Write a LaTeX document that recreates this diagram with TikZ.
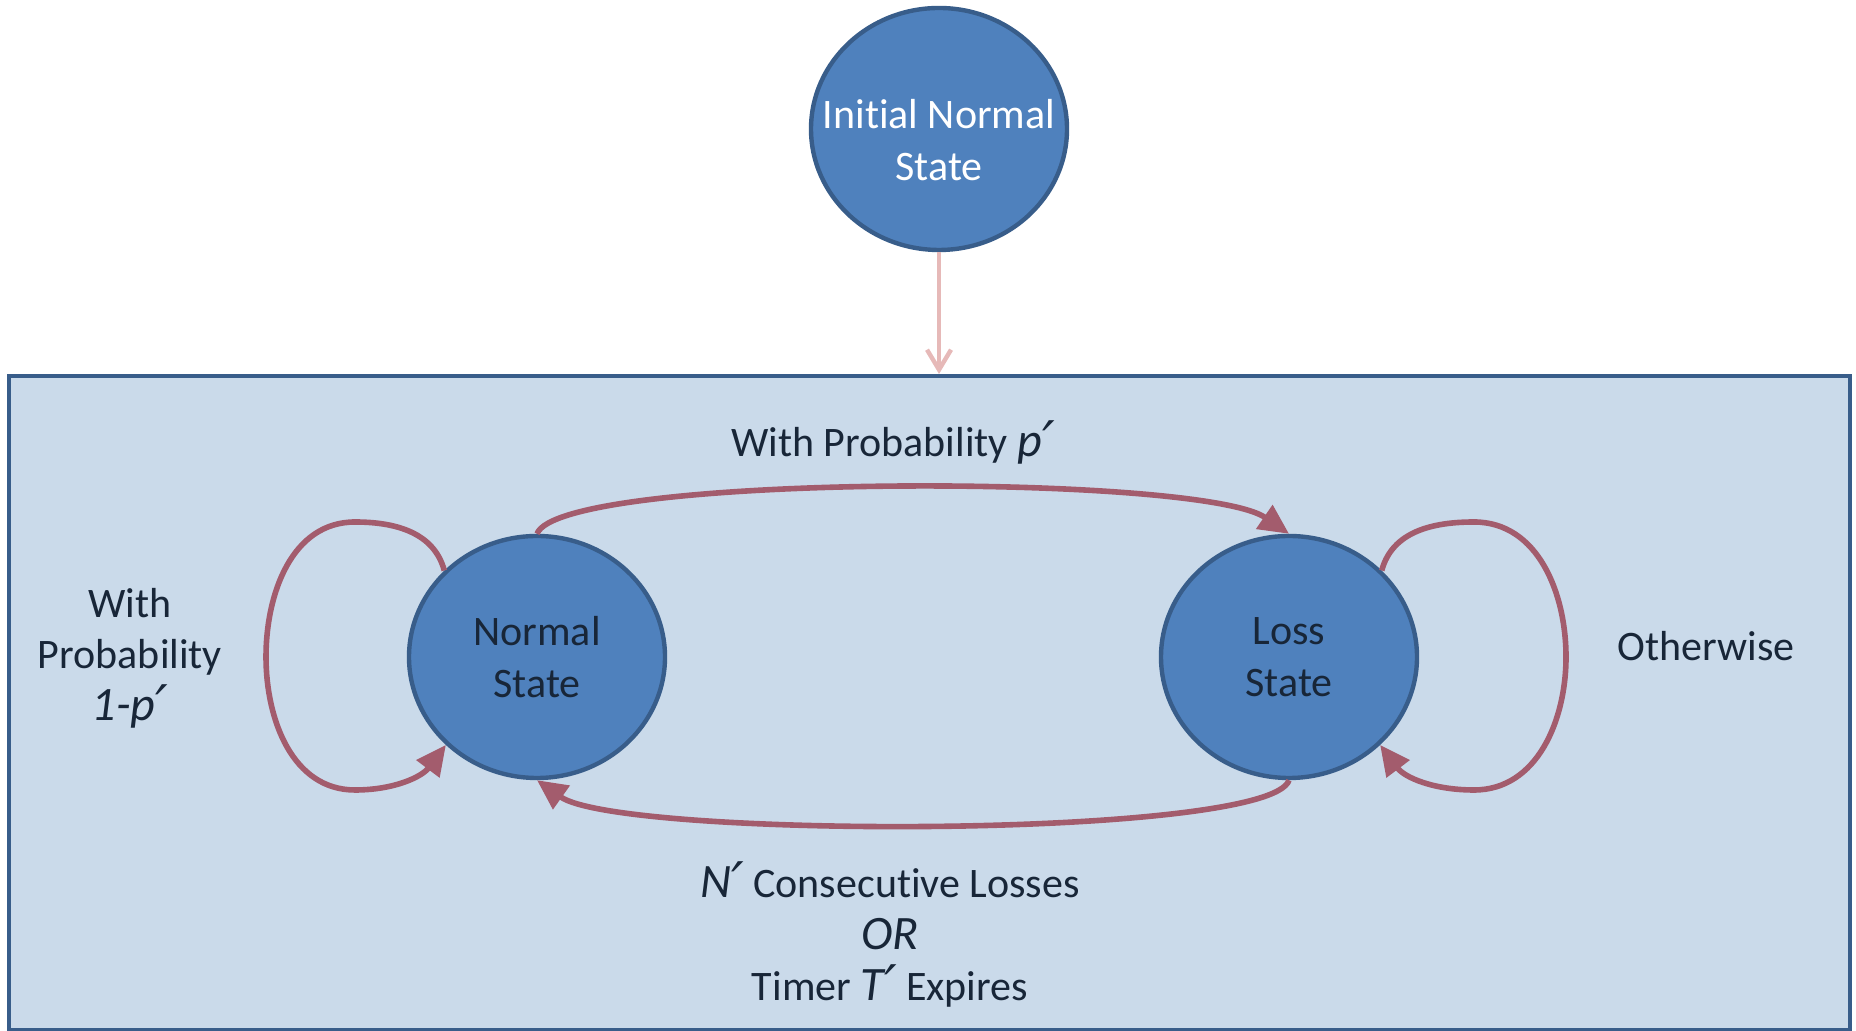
\documentclass[tikz,border=0pt]{standalone}
\usepackage{fontspec}
\setmainfont{Carlito}[Ligatures={NoCommon}]
\newfontfamily\primefont{DejaVu Sans}
\usetikzlibrary{shapes.geometric,arrows.meta}
\definecolor{stfill}{HTML}{4F81BD}
\definecolor{stedge}{HTML}{385D8A}
\definecolor{framefill}{RGB}{202,218,234}
\definecolor{txt}{RGB}{24,38,56}
\definecolor{trans}{HTML}{A35C6D}
\definecolor{initarrow}{HTML}{E6B9B8}
\newcommand{\bigit}[1]{{\fontsize{24}{25.75}\selectfont\itshape #1}}
\newcommand{\pr}{\smash{\raisebox{-2.5pt}{\fontsize{28}{25.75}\selectfont\primefont\itshape ′}}}
\tikzset{
 state/.style={ellipse, draw=stedge, fill=stfill, line width=2.2pt, minimum width=128pt, minimum height=121pt, inner sep=0pt},
 lbl/.style={align=center, text=txt, font=\fontsize{21}{25.75}\selectfont, inner sep=0pt},
 transarrow/.style={draw=trans, line width=2.8pt, -{Triangle[length=15pt,width=14pt]}},
 framebox/.style={draw=stedge, fill=framefill, line width=2pt, minimum width=920.5pt, minimum height=327pt, inner sep=0pt},
 initline/.style={draw=initarrow, line width=2.2pt, -{Straight Barb[length=10pt,width=12pt]}}
}
\begin{document}
\begin{tikzpicture}[x=0.5pt,y=0.5pt]
\useasboundingbox (0,0) rectangle (1856,1031);
\node[framebox] (frame) at (929.5,328) {};
\node[state] (init) at (939,902) {};
\node[lbl, text=white] (initT) at (939,891) {Initial Normal\\State};
\node[state] (normal) at (537,374) {};
\node[lbl] (normalT) at (537,374) {Normal\\State};
\node[state] (loss) at (1289,374) {};
\node[lbl] (lossT) at (1289,374) {Loss\\State};

\draw[initline] (init.south) -- (init.south |- frame.north);

\draw[transarrow] (normal.north) .. controls (560,558) and (1200,558) .. (loss.north);
\draw[transarrow] (loss.south) .. controls (1270,192) and (620,192) .. (normal.south);

\draw[transarrow] (normal.137) to[out=105,in=0] (355,509) to[out=180,in=90] (266,374) to[out=-90,in=180] (355,241) to[out=0,in=233] (normal.224);
\draw[transarrow] (loss.43) to[out=75,in=180] (1474,509) to[out=0,in=90] (1566,374) to[out=-90,in=0] (1474,241) to[out=180,in=-53] (loss.-44);

\node[lbl] (pl) at (893,585) {With Probability \bigit{p\pr}};
\node[lbl] (ql) at (130,373) {With\\Probability\\\bigit{1-p\pr}};
\node[lbl] (ol) at (1706,385) {Otherwise};
\node[lbl] (bl) at (890,94) {\bigit{N\pr} Consecutive Losses\\\bigit{OR}\\Timer \bigit{T\pr} Expires};
\end{tikzpicture}
\end{document}
